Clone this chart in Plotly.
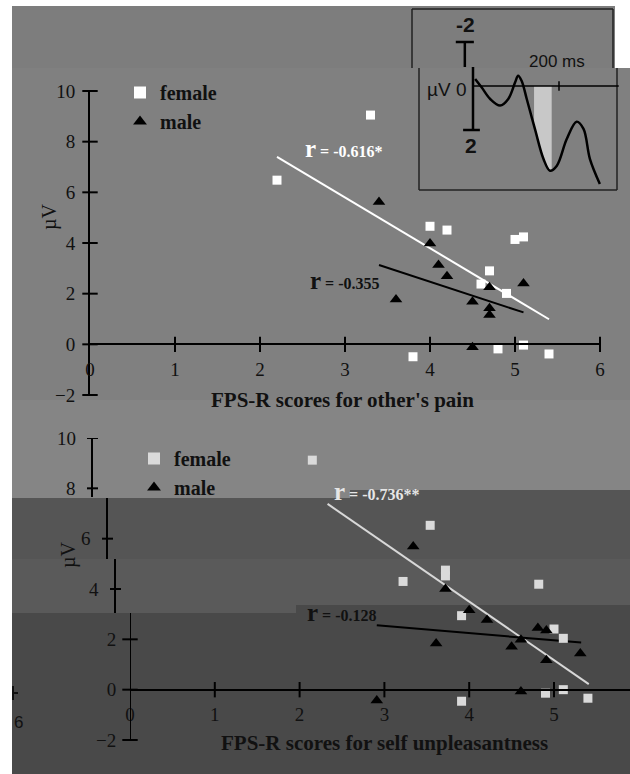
import numpy as np
import plotly.graph_objects as go

W, H = 630, 774

# ---------------- data ----------------
# Panel 1: FPS-R scores for other's pain
other_female_x = [2.2, 3.3, 4.0, 4.2, 4.7, 4.6, 4.9, 5.0, 5.1, 5.1, 5.4, 4.8, 3.8]
other_female_y = [6.48, 9.05, 4.66, 4.51, 2.90, 2.38, 2.01, 4.14, 4.24, -0.03, -0.38, -0.18, -0.49]
other_male_x = [3.4, 4.0, 4.1, 4.2, 3.6, 4.5, 4.7, 4.7, 4.7, 5.1, 4.5]
other_male_y = [5.62, 3.98, 3.13, 2.69, 1.77, 1.68, 2.25, 1.42, 1.16, 2.40, -0.12]
other_fit_female_x = [2.2, 5.4]
other_fit_female_y = [7.40, 0.99]
other_fit_male_x = [3.4, 5.1]
other_fit_male_y = [3.13, 1.26]
other_r_female = "-0.616*"
other_r_male = "-0.355"

# Panel 2: FPS-R scores for self unpleasantness
self_female_x = [2.15, 3.54, 3.22, 3.72, 3.72, 4.82, 3.91, 5.0, 5.11, 4.90, 5.11, 5.40, 3.91]
self_female_y = [9.12, 6.53, 4.30, 4.75, 4.52, 4.19, 2.94, 2.41, 2.04, -0.14, 0.0, -0.34, -0.46]
self_male_x = [3.34, 3.72, 4.0, 4.21, 3.61, 4.50, 4.61, 4.81, 4.91, 4.91, 5.31, 4.61, 2.91]
self_male_y = [5.69, 4.0, 3.16, 2.77, 1.83, 1.71, 1.98, 2.45, 2.35, 1.17, 1.44, -0.07, -0.43]
self_fit_female_x = [2.33, 5.41]
self_fit_female_y = [7.38, 0.22]
self_fit_male_x = [2.91, 5.32]
self_fit_male_y = [2.56, 1.87]
self_r_female = "-0.736**"
self_r_male = "-0.128"

# tick labels
x_ticks_top = [0, 1, 2, 3, 4, 5, 6]
x_ticks_bot = [0, 1, 2, 3, 4, 5]
y_ticks = [-2, 0, 2, 4, 6, 8, 10]
y_ticks_bot_axis = [-2, 0, 2]
y_ticks_bot_shifted = [4, 6, 8, 10]

# Inset ERP waveform (ms, µV; negative up)
erp_t = [5, 20, 40, 63, 82, 98, 105, 113, 125, 144, 164, 179, 195, 218, 241, 257, 272, 295]
erp_uv = [-0.32, 0.06, 0.59, 0.89, 0.59, -0.17, -0.47, -0.24, 0.59, 1.95, 3.32, 3.85, 3.62,
          2.41, 1.62, 1.95, 3.32, 4.45]
erp_window = [142, 183]

# ---------------- helpers ----------------
def px(x):
    return x / W


def py(y):
    return 1 - y / H


SERIF = "Liberation Serif"
SANS = "Liberation Sans"
INK = "#111111"

top_xdom = [px(90), px(600)]
top_ydom = [py(395), py(91)]
bot_xdom = [px(130), 1.0]
bot_ydom = [py(740), py(438)]
ins_xdom = [px(447.2), px(619.2)]
ins_ydom = [py(187.2), py(35.4)]


def zero_pos(dom, rng):
    return dom[0] + (0 - rng[0]) / (rng[1] - rng[0]) * (dom[1] - dom[0])


fig = go.Figure()
TICKMK = dict(size=11, color="black", line=dict(color="black", width=2))

# ---- panel 1 ----
fig.add_trace(go.Scatter(x=other_fit_female_x, y=other_fit_female_y, mode="lines",
                         line=dict(color="white", width=2), showlegend=False,
                         xaxis="x", yaxis="y", hoverinfo="skip"))
fig.add_trace(go.Scatter(x=other_fit_male_x, y=other_fit_male_y, mode="lines",
                         line=dict(color="black", width=2), showlegend=False,
                         xaxis="x", yaxis="y", hoverinfo="skip"))
fig.add_trace(go.Scatter(x=other_female_x, y=other_female_y, mode="markers", name="<b>female</b>",
                         marker=dict(symbol="square", size=9, color="white"),
                         xaxis="x", yaxis="y", legend="legend"))
fig.add_trace(go.Scatter(x=other_male_x, y=other_male_y, mode="markers", name="<b>male</b>",
                         marker=dict(symbol="triangle-up", size=11, color="black"),
                         xaxis="x", yaxis="y", legend="legend"))
fig.add_trace(go.Scatter(x=x_ticks_top[1:], y=[0] * (len(x_ticks_top) - 1), mode="markers",
                         marker=dict(symbol="line-ns-open", **TICKMK),
                         showlegend=False, hoverinfo="skip", cliponaxis=False, xaxis="x", yaxis="y"))
fig.add_trace(go.Scatter(x=[0] * len(y_ticks), y=y_ticks, mode="markers",
                         marker=dict(symbol="line-ew-open", **TICKMK),
                         showlegend=False, hoverinfo="skip", cliponaxis=False, xaxis="x", yaxis="y"))

# ---- panel 2 ----
fig.add_trace(go.Scatter(x=self_fit_female_x, y=self_fit_female_y, mode="lines",
                         line=dict(color="#d8d8d8", width=2), showlegend=False,
                         xaxis="x2", yaxis="y2", hoverinfo="skip"))
fig.add_trace(go.Scatter(x=self_fit_male_x, y=self_fit_male_y, mode="lines",
                         line=dict(color="black", width=2), showlegend=False,
                         xaxis="x2", yaxis="y2", hoverinfo="skip"))
fig.add_trace(go.Scatter(x=self_female_x, y=self_female_y, mode="markers", name="<b>female</b>",
                         marker=dict(symbol="square", size=9, color="#dadada"),
                         xaxis="x2", yaxis="y2", legend="legend2"))
fig.add_trace(go.Scatter(x=self_male_x, y=self_male_y, mode="markers", name="<b>male</b>",
                         marker=dict(symbol="triangle-up", size=11, color="black"),
                         xaxis="x2", yaxis="y2", legend="legend2"))
fig.add_trace(go.Scatter(x=x_ticks_bot[1:], y=[0] * (len(x_ticks_bot) - 1), mode="markers",
                         marker=dict(symbol="line-ns-open", **TICKMK),
                         showlegend=False, hoverinfo="skip", cliponaxis=False, xaxis="x2", yaxis="y2"))
fig.add_trace(go.Scatter(x=[0] * len(y_ticks_bot_axis), y=y_ticks_bot_axis, mode="markers",
                         marker=dict(symbol="line-ew-open", **TICKMK),
                         showlegend=False, hoverinfo="skip", cliponaxis=False, xaxis="x2", yaxis="y2"))

# ---- inset ----
w0, w1 = erp_window
inner = [(t, v) for t, v in zip(erp_t, erp_uv) if w0 < t < w1]
poly_x = [w0] + [t for t, _ in inner] + [w1, w1, w0]
poly_y = ([float(np.interp(w0, erp_t, erp_uv))] + [v for _, v in inner]
          + [float(np.interp(w1, erp_t, erp_uv)), 0, 0])
fig.add_trace(go.Scatter(x=poly_x, y=poly_y, mode="lines", fill="toself", fillcolor="#c8c8c8",
                         line=dict(width=0, color="#c8c8c8"), showlegend=False, hoverinfo="skip",
                         xaxis="x3", yaxis="y3"))
fig.add_trace(go.Scatter(x=erp_t, y=erp_uv, mode="lines", line=dict(color="black", width=2.5, shape="spline"),
                         showlegend=False, hoverinfo="skip", xaxis="x3", yaxis="y3"))

# ---------------- shapes ----------------
shapes = []


def rect(x0, y0, x1, y1, color):
    shapes.append(dict(type="rect", xref="paper", yref="paper", x0=px(x0), x1=px(x1), y0=py(y1), y1=py(y0),
                       fillcolor=color, line=dict(width=0), layer="below"))


def pline(x0, y0, x1, y1, width=2, color="black"):
    shapes.append(dict(type="line", xref="paper", yref="paper", x0=px(x0), x1=px(x1), y0=py(y0), y1=py(y1),
                       line=dict(color=color, width=width)))


# background bands (scanned figure), overlapping to avoid seams
rect(12, 6, 615, 74, "#7d7d7d")
rect(12, 68, 631, 402, "#808080")
rect(12, 400, 631, 500, "#858585")
rect(12, 498, 352, 561, "#555555")
rect(350, 490, 631, 561, "#555555")
rect(12, 559, 631, 615, "#5a5a5a")
rect(296, 605, 631, 775, "#494949")
rect(12, 613, 298, 775, "#494949")

# inset frame
pline(412, 9, 613, 9, 1.5, "#222")
pline(412, 9, 412, 68, 1.5, "#222")
pline(613, 9, 613, 68, 1.5, "#222")
pline(419, 68, 419, 190, 1.5, "#222")
pline(419, 190, 617, 190, 1.5, "#222")
pline(617, 68, 617, 190, 1.5, "#222")


def dline(x0, y0, x1, y1, xr, yr, width=2):
    shapes.append(dict(type="line", xref=xr, yref=yr, x0=x0, x1=x1, y0=y0, y1=y1,
                       line=dict(color="black", width=width)))


# inset axes
dline(-19, -2, -19, -0.86, "x3", "y3", 2.5)
dline(-40, -2, 2, -2, "x3", "y3", 2.5)
dline(0, -0.86, 0, 2, "x3", "y3", 2.5)
dline(-23, 2, 16, 2, "x3", "y3", 2.5)
dline(0, 0, 339, 0, "x3", "y3", 1.5)
dline(200, -0.22, 200, 0.22, "x3", "y3", 1.5)

# bottom-panel y axis (scan has horizontally shifted bands)
shapes.append(dict(type="line", xref="x2", yref="y2", x0=0, x1=0, y0=-2, y1=3.05,
                   line=dict(color="black", width=2)))
seg = [(92, 10, 7.66), (107, 7.62, 5.19), (115, 5.19, 3.05)]
for xp, ya, yb in seg:
    shapes.append(dict(type="line", xref="paper", yref="y2", x0=px(xp), x1=px(xp), y0=yb, y1=ya,
                       line=dict(color="black", width=2)))
tick_seg_x = {10: 92, 8: 92, 6: 107, 4: 115}
for v in y_ticks_bot_shifted:
    xp = tick_seg_x[v]
    shapes.append(dict(type="line", xref="paper", yref="y2", x0=px(xp - 5), x1=px(xp + 6), y0=v, y1=v,
                       line=dict(color="black", width=2)))
# scan artefact at left edge
pline(13, 686, 13, 700, 2, "#111")
pline(13, 693, 18, 693, 2, "#111")

# ---------------- annotations ----------------
ann = []


def text(x, y, s, size, color=INK, family=SERIF, angle=0, xanchor="center"):
    ann.append(dict(x=px(x), y=py(y), xref="paper", yref="paper", text=s, showarrow=False,
                    font=dict(family=family, size=size, color=color), textangle=angle,
                    xanchor=xanchor, yanchor="middle"))


def rtext(val):
    return "<b><span style='font-size:25px'>r</span> = " + val + "</b>"


text(344, 148, rtext(other_r_female), 16, "white")
text(345, 280, rtext(other_r_male), 16, INK)
text(377, 491, rtext(self_r_female), 16, "#e6e6e6")
text(342, 612, rtext(self_r_male), 16, INK)

text(342, 400, "<b>FPS-R scores for other's pain</b>", 21)
text(384, 743, "<b>FPS-R scores for self unpleasantness</b>", 21)
text(50, 217, "µV", 20, angle=-90)
text(68, 555, "µV", 20, angle=-90)
text(18, 722, "6", 17, family=SANS)

for v in y_ticks_bot_shifted:
    xp = tick_seg_x[v] - 14
    ann.append(dict(x=px(xp), y=v, xref="paper", yref="y2", text=str(v), showarrow=False,
                    font=dict(family=SERIF, size=19, color=INK), xanchor="right", yanchor="middle"))

# inset labels
text(465, 25, "<b>-2</b>", 21, INK, SANS)
text(471, 145, "<b>2</b>", 21, INK, SANS)
text(446, 89, "µV 0", 19, INK, SANS)
text(557, 62, "200 ms", 17, INK, SANS)

# ---------------- layout ----------------
r_top = [0, 6]
r_bot = [0, 500 / 84.8]
yr = [-2, 10]

axis_font = dict(family=SERIF, size=19, color=INK)
common_x = dict(showgrid=False, zeroline=False, showline=True, linecolor="black", linewidth=2,
                ticks="outside", ticklen=8, tickcolor="rgba(0,0,0,0)", tickfont=axis_font,
                automargin=False)
common_y = dict(showgrid=False, zeroline=False, ticks="outside", ticklen=9,
                tickcolor="rgba(0,0,0,0)", tickfont=axis_font, range=yr, automargin=False)

fig.update_layout(
    width=W, height=H,
    margin=dict(l=0, r=0, t=0, b=0, pad=0, autoexpand=False),
    paper_bgcolor="white",
    plot_bgcolor="rgba(0,0,0,0)",
    xaxis=dict(domain=top_xdom, range=r_top, tickvals=x_ticks_top, anchor="free",
               position=zero_pos(top_ydom, yr), **common_x),
    yaxis=dict(domain=top_ydom, anchor="x", tickvals=y_ticks, showline=True, linecolor="black",
               linewidth=2, **common_y),
    xaxis2=dict(domain=bot_xdom, range=r_bot, tickvals=x_ticks_bot, anchor="free",
                position=zero_pos(bot_ydom, yr), **common_x),
    yaxis2=dict(domain=bot_ydom, anchor="x2", tickvals=y_ticks_bot_axis, showline=False, **common_y),
    xaxis3=dict(domain=ins_xdom, range=[-60, 340], visible=False, anchor="y3", automargin=False),
    yaxis3=dict(domain=ins_ydom, range=[4.6, -2.3], visible=False, anchor="x3", automargin=False),
    legend=dict(x=px(120), y=py(73), xanchor="left", yanchor="top", bgcolor="rgba(0,0,0,0)",
                font=dict(family=SERIF, size=20, color=INK), itemsizing="constant",
                tracegroupgap=0),
    legend2=dict(x=px(134), y=py(439), xanchor="left", yanchor="top", bgcolor="rgba(0,0,0,0)",
                 font=dict(family=SERIF, size=20, color=INK), itemsizing="constant",
                 tracegroupgap=0),
    shapes=shapes,
    annotations=ann,
    showlegend=True,
)

fig.write_html("out.html", config={"displayModeBar": False},
               post_script="document.body.style.margin='0px';")
